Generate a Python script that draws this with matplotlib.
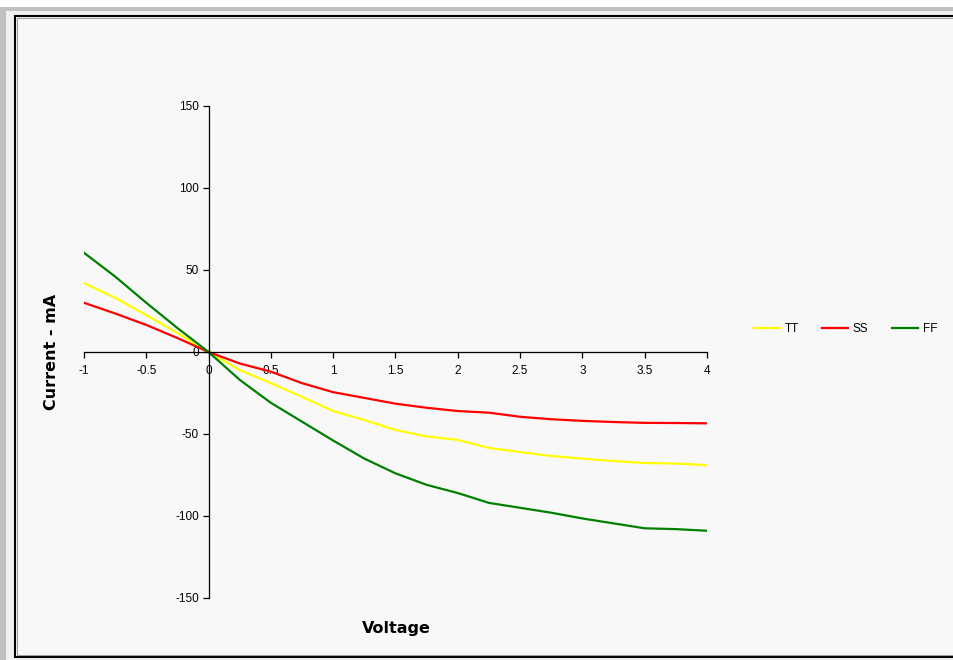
import matplotlib
matplotlib.use('Agg')
import matplotlib.pyplot as plt
from matplotlib.patches import Rectangle

# I-V sweep of the three process corners
volts = [-1, -0.75, -0.5, -0.25, 0, 0.25, 0.5, 0.75, 1, 1.25, 1.5, 1.75,
         2, 2.25, 2.5, 2.75, 3, 3.25, 3.5, 3.75, 4]
tt = [42, 33, 22.5, 11.6, 0, -11, -19, -27.4, -36, -41.5, -47.5, -51.5,
      -53.6, -58.5, -61, -63.4, -65, -66.5, -67.7, -68, -69]
ss = [30, 23.5, 16.5, 8.5, 0, -7, -12, -19, -24.5, -28, -31.5, -34,
      -36, -37, -39.5, -41, -42, -42.7, -43.2, -43.3, -43.5]
ff = [60.5, 46, 30, 14.6, 0, -17, -31, -42.5, -54, -65, -74, -81,
      -86, -92, -95, -98, -101.5, -104.5, -107.5, -108, -109]

xticks = [-1, -0.5, 0, 0.5, 1, 1.5, 2, 2.5, 3, 3.5, 4]
xlabels = ['-1', '-0.5', '0', '0.5', '1', '1.5', '2', '2.5', '3', '3.5', '4']
yticks = [-150, -100, -50, 0, 50, 100, 150]

W, H = 954, 660
plt.rcParams['font.family'] = ['Liberation Sans', 'DejaVu Sans']
plt.rcParams['axes.unicode_minus'] = False

fig = plt.figure(figsize=(W / 100, H / 100), dpi=100, facecolor='white')

def px(x0, y0, x1, y1):
    # pixel box (top-left origin) -> figure fraction rect
    return (x0 / W, 1 - y1 / H), (x1 - x0) / W, (y1 - y0) / H

# window-style frame around the chart
for box, fc, ec, lw in [((0, 7, W, H), '#c0c0c0', 'none', 0),
                        ((6, 11, W, H), '#f0f0f0', 'none', 0),
                        ((15, 16, W + 10, 657), '#f8f8f8', 'black', 1.5),
                        ((17, 18, W + 10, 655), 'none', '#a0a0a0', 0.8)]:
    xy, w, h = px(*box)
    fig.patches.append(Rectangle(xy, w, h, transform=fig.transFigure,
                                 facecolor=fc, edgecolor=ec, linewidth=lw,
                                 zorder=-10))

ax = fig.add_axes([84 / W, 1 - 598 / H, 623 / W, 492 / H])
ax.patch.set_alpha(0)

ax.plot(volts, tt, color='#ffff00', lw=1.6, label='TT')
ax.plot(volts, ss, color='#ff0000', lw=1.6, label='SS')
ax.plot(volts, ff, color='#008000', lw=1.6, label='FF')

ax.set_xlim(-1, 4)
ax.set_ylim(-150, 150)
ax.spines['left'].set_position(('data', 0))
ax.spines['bottom'].set_position(('data', 0))
ax.spines['right'].set_visible(False)
ax.spines['top'].set_visible(False)
for s in ('left', 'bottom'):
    ax.spines[s].set_linewidth(0.9)
ax.set_xticks(xticks)
ax.set_xticklabels(xlabels)
ax.set_yticks(yticks)
ax.tick_params(direction='out', length=4, width=0.9, labelsize=8.5)
ax.tick_params(axis='x', pad=5)
ax.tick_params(axis='y', pad=3)

fig.text(396 / W, 1 - 628 / H, 'Voltage', ha='center', va='center',
         fontsize=11.5, fontweight='bold', family='DejaVu Sans')
fig.text(52 / W, 1 - 352 / H, 'Current - mA', ha='center', va='center',
         rotation=90, fontsize=11.5, fontweight='bold', family='DejaVu Sans')

fig.legend(loc='center left', bbox_to_anchor=(743 / W, 1 - 329 / H),
           ncol=3, frameon=False, fontsize=8.5, handlelength=2.2,
           handletextpad=0.4, columnspacing=2.0)

fig.savefig('out.png', dpi=100, facecolor=fig.get_facecolor())
